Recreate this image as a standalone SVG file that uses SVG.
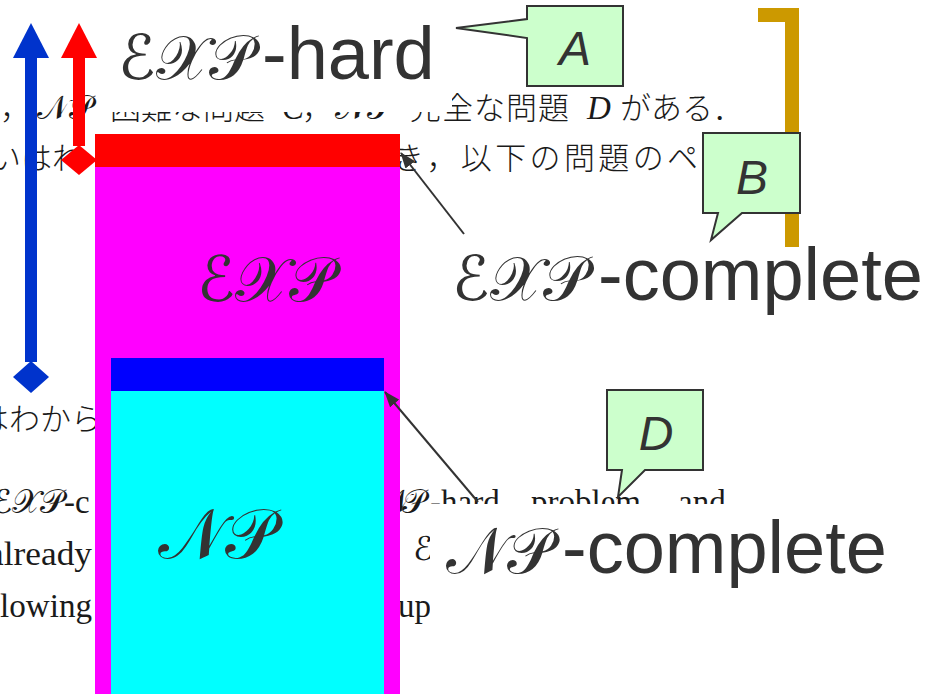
<svg xmlns="http://www.w3.org/2000/svg" width="942" height="694" viewBox="0 0 942 694">
<defs>
<style>
.bg { font-family: "Liberation Serif", "DejaVu Serif", serif; font-size: 33px; fill: #1a1a1a; }
.bgj { font-family: "Noto Sans CJK JP", "Noto Sans CJK SC", sans-serif; font-size: 31px; fill: #1a1a1a; font-weight: 300; }
.scr { font-family: "DejaVu Serif", "DejaVu Sans", serif; font-style: normal; }
.lbl { font-family: "Liberation Sans", Arial, sans-serif; font-size: 74px; fill: #333333; }
.big { fill: #333333; }
.call { fill: #ccffcc; stroke: #333333; stroke-width: 2; }
.ct { font-family: "Liberation Sans", Arial, sans-serif; font-style: italic; font-size: 48px; fill: #333333; text-anchor: middle; }
.con { stroke: #333333; stroke-width: 2; fill: none; }
</style>
<marker id="ah" markerWidth="16" markerHeight="12" refX="15" refY="6" orient="auto" markerUnits="userSpaceOnUse" viewBox="0 0 16 12">
<path d="M0,0 L16,6 L0,12 Z" fill="#333333"/>
</marker>
</defs>

<g id="background-text">
<text class="bgj" x="0" y="119">，</text>
<text class="bg scr" x="37" y="119" font-size="30">𝒩𝒫</text>
<text class="bgj" x="110" y="119">困難な問題</text>
<text class="bg" x="282" y="119" font-style="italic">C</text>
<text class="bgj" x="302" y="119">，</text>
<text class="bg scr" x="335" y="119" font-size="30">𝒩𝒫</text>
<text class="bgj" x="410" y="119" letter-spacing="1">完全な問題</text>
<text class="bg" x="587" y="119" font-style="italic">D</text>
<text class="bgj" x="620" y="119">がある．</text>
<text class="bgj" x="-10" y="169">いはれ</text>
<text class="bgj" x="393" y="169" textLength="305" lengthAdjust="spacing">き，以下の問題のペ</text>
<text class="bgj" x="-22" y="430">はわから</text>
<text class="bg scr" x="-8" y="513" font-size="30">ℰ𝒳𝒫<tspan class="bg">-c</tspan></text>
<text class="bg" x="-12" y="565" textLength="104" lengthAdjust="spacingAndGlyphs">already</text>
<text class="bg" x="0" y="617" textLength="92" lengthAdjust="spacingAndGlyphs">lowing</text>
<text class="bg scr" x="378" y="513" font-size="30">𝒩<tspan x="402">𝒫</tspan><tspan class="bg" x="430">-hard</tspan><tspan class="bg" x="531">problem,</tspan><tspan class="bg" x="678">and</tspan></text>
<text class="bg scr" x="413" y="560" font-size="28">ℰ</text>
<text class="bg" x="398" y="617">ups</text>
</g>

<g id="label-bg">
<rect x="104" y="0" width="348" height="112" fill="#ffffff"/>
<rect x="430" y="504" width="470" height="122" fill="#ffffff"/>
</g>

<g id="exp-region">
<rect x="95" y="134" width="305" height="33" fill="#ff0000"/>
<rect x="95" y="167" width="305" height="527" fill="#ff00ff"/>
<text class="scr big" x="197" y="301" font-size="63">ℰ𝒳𝒫</text>
</g>

<g id="np-region">
<rect x="111" y="358" width="273" height="33" fill="#0000ff"/>
<rect x="111" y="391" width="273" height="303" fill="#00ffff"/>
<text class="scr big" x="158" y="558" font-size="70">𝒩𝒫</text>
</g>

<g id="blue-arrow">
<line x1="31" y1="56" x2="31" y2="362" stroke="#0033cc" stroke-width="12"/>
<polygon points="31,23 49,58 13,58" fill="#0033cc"/>
<polygon points="31,361 49,377 31,393 13,377" fill="#0033cc"/>
</g>

<g id="red-arrow">
<line x1="79" y1="56" x2="79" y2="146" stroke="#ff0000" stroke-width="12"/>
<polygon points="79,23 97,58 61,58" fill="#ff0000"/>
<polygon points="79,145 97,160 79,175 61,160" fill="#ff0000"/>
</g>

<g id="bracket">
<path d="M758,15 H792 V247" stroke="#cc9900" stroke-width="14" fill="none"/>
</g>

<g id="callout-A">
<path class="call" d="M527,6 H623 V86 H527 V38 L456,28 L527,19 Z"/>
<text class="ct" x="575" y="65">A</text>
</g>
<g id="callout-B">
<path class="call" d="M703,133 H800 V213 H742 L711,240 L718,213 H703 Z"/>
<text class="ct" x="752" y="194">B</text>
</g>
<g id="callout-D">
<path class="call" d="M607,390 H703 V470 H645 L618,497 L622,470 H607 Z"/>
<text class="ct" x="656" y="450">D</text>
</g>

<g id="connectors">
<line class="con" x1="464" y1="234" x2="401" y2="153" marker-end="url(#ah)"/>
<line class="con" x1="478" y1="502" x2="385" y2="392" marker-end="url(#ah)"/>
</g>

<g id="label-exp-hard">
<text class="lbl" y="79"><tspan class="scr" x="118" font-size="62">ℰ𝒳𝒫</tspan><tspan x="262">-hard</tspan></text>
</g>
<g id="label-exp-complete">
<text class="lbl" y="300"><tspan class="scr" x="452" font-size="62">ℰ𝒳𝒫</tspan><tspan x="598">-complete</tspan></text>
</g>
<g id="label-np-complete">
<text class="lbl" y="573"><tspan class="scr" x="446" font-size="64">𝒩𝒫</tspan><tspan x="562">-complete</tspan></text>
</g>
</svg>
